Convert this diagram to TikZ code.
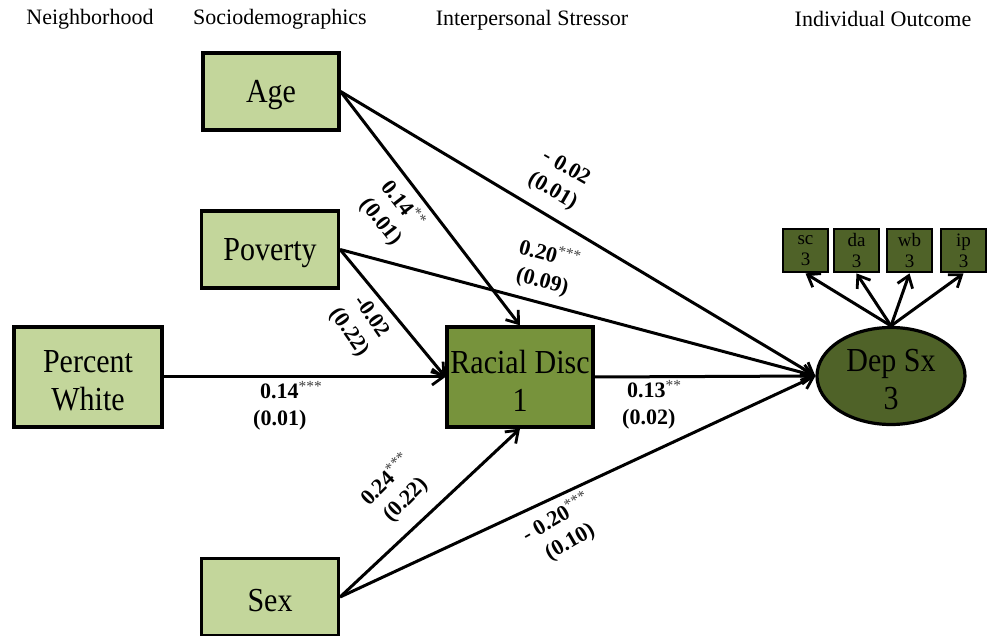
\documentclass[tikz,border=0pt]{standalone}
\usepackage{fontspec}
\setmainfont{Liberation Serif}
\usetikzlibrary{arrows.meta,shapes.geometric}
\definecolor{lightolive}{HTML}{C3D69B}
\definecolor{midolive}{HTML}{77933C}
\definecolor{darkolive}{HTML}{4F6228}
\begin{document}
\begin{tikzpicture}[x=1pt,y=-1pt,
  box/.style={draw=black,line width=3.2pt,fill=lightolive,inner sep=0pt,align=center,
    font=\fontsize{30}{38}\selectfont},
  smallbox/.style={draw=black,line width=2.8pt,fill=darkolive,inner sep=0pt,align=center,
    minimum width=45pt,minimum height=43pt,font=\fontsize{19}{21}\selectfont},
  hdr/.style={font=\fontsize{22}{26}\selectfont,inner sep=0pt},
  path/.style={line width=3pt,-{Straight Barb[length=11pt,width=16pt,line width=2.8pt]}},
  coef/.style={font=\fontsize{22}{27}\selectfont\bfseries,align=center,inner sep=0pt},
]
\useasboundingbox (0,0) rectangle (989,636);
\newcommand{\sig}[1]{\textsuperscript{\normalfont\color{black!75}#1}}
\newcommand{\bt}[1]{\raisebox{-4pt}[\height][\depth]{\scalebox{1}[1.12]{#1}}}

% headers
\node[hdr] (h1) at (90,19) {Neighborhood};
\node[hdr] (h2) at (280,19) {Sociodemographics};
\node[hdr] (h3) at (532,20) {Interpersonal Stressor};
\node[hdr] (h4) at (883,19) {Individual Outcome};

% boxes
\node[box,minimum width=136pt,minimum height=77pt] (age) at (271,91.5) {\bt{Age}};
\node[box,minimum width=137pt,minimum height=77pt] (pov) at (270,249.5) {\bt{Poverty}};
\node[box,minimum width=148pt,minimum height=100pt] (pw) at (88,377) {\bt{Percent}\\\bt{White}};
\node[box,fill=midolive,minimum width=146pt,minimum height=100pt] (rd) at (520,377) {\bt{Racial Disc}\\\bt{1}};
\node[box,minimum width=137pt,minimum height=77pt] (sex) at (270,597) {\bt{Sex}};
\node[box,ellipse,fill=darkolive,minimum width=148pt,minimum height=97pt] (dep) at (891,376) {\bt{Dep Sx}\\\bt{3}};

% indicators
\node[smallbox] (sc) at (805.5,250.5) {sc\\3};
\node[smallbox] (da) at (856.5,250.5) {da\\3};
\node[smallbox] (wb) at (909.5,250.5) {wb\\3};
\node[smallbox] (ip) at (963.5,250.5) {ip\\3};

% paths
\draw[path] (age.east) -- (rd.north);
\draw[path] (age.east) -- (dep.west);
\draw[path] (pov.east) -- (dep.west);
\draw[path] (pov.east) -- (rd.west);
\draw[path] (pw.east) -- (rd.west);
\draw[path] (rd.east) -- (dep.west);
\draw[path] (sex.east) -- (rd.south);
\draw[path] (sex.east) -- (dep.west);
\foreach \t in {sc,da,wb,ip}{\draw[path] (dep.north) -- (\t.south);}

% coefficients
\node[coef,rotate=-52] (l1) at (392,213) {0.14\sig{**}\\(0.01)};
\node[coef,rotate=-30] (l2) at (559,180) {- 0.02\\(0.01)};
\node[coef,rotate=-15] (l3) at (546,268) {0.20\sig{***}\\(0.09)};
\node[coef,rotate=-55] (l4) at (360,325) {-0.02\\(0.22)};
\node[coef,align=left,anchor=west] (l5) at (253,406) {\hspace*{7pt}0.14\sig{***}\\(0.01)};
\node[coef,align=left,anchor=west] (l6) at (622,405) {\hspace*{5pt}0.13\sig{**}\\(0.02)};
\node[coef,rotate=45] (l7) at (396,490) {0.24\sig{***}\\(0.22)};
\node[coef,rotate=30] (l8) at (563,530) {- 0.20\sig{***}\\(0.10)};
\end{tikzpicture}
\end{document}
